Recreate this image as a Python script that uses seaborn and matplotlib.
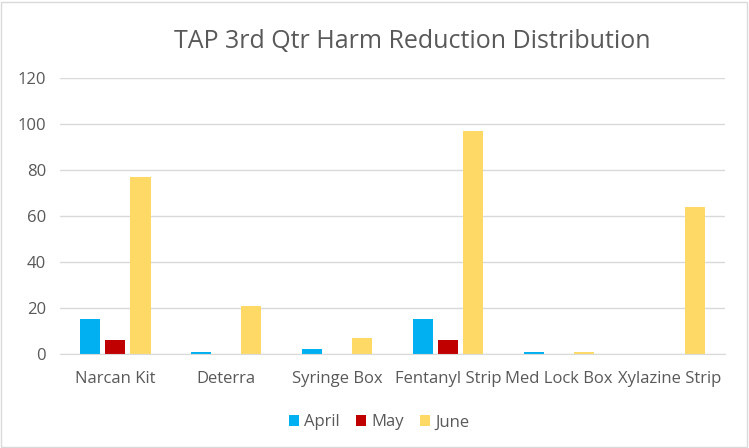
import matplotlib
matplotlib.use("Agg")
import matplotlib.pyplot as plt
import pandas as pd
import seaborn as sns
from matplotlib.patches import Rectangle

categories = ["Narcan Kit", "Deterra", "Syringe Box", "Fentanyl Strip", "Med Lock Box", "Xylazine Strip"]
months = ["April", "May", "June"]
april = [15, 1, 2, 15, 1, 0]
may = [6, 0, 0, 6, 0, 0]
june = [77, 21, 7, 97, 1, 64]

COLORS = {"April": "#00B0F0", "May": "#C00000", "June": "#FFD966"}
TEXT = "#595959"

df = pd.DataFrame({"Item": categories, "April": april, "May": may, "June": june})
long_df = df.melt(id_vars="Item", var_name="Month", value_name="Count")

sns.set_style("white")
plt.rcParams["font.family"] = ["Open Sans", "DejaVu Sans"]

fig = plt.figure(figsize=(7.49, 4.48), dpi=100)
ax = fig.add_axes([0.08, 0.21, 0.888, 0.616])

sns.barplot(
    data=long_df,
    x="Item",
    y="Count",
    hue="Month",
    hue_order=months,
    palette=COLORS,
    width=0.68,
    gap=0.2,
    ax=ax,
    saturation=1,
    linewidth=0,
)

ax.set_ylim(0, 120)
ax.set_yticks(range(0, 121, 20))
ax.set_xlim(-0.5, len(categories) - 0.5)
ax.yaxis.grid(True, color="#D9D9D9", linewidth=1)
ax.set_axisbelow(True)
for side in ["top", "right", "left"]:
    ax.spines[side].set_visible(False)
ax.spines["bottom"].set_color("#D9D9D9")
ax.tick_params(axis="both", length=0, labelsize=12, colors=TEXT, pad=10)
ax.tick_params(axis="x", pad=12)
ax.set_xlabel("")
ax.set_ylabel("")

fig.suptitle("TAP 3rd Qtr Harm Reduction Distribution", x=0.55, y=0.935,
             fontsize=18, color=TEXT)

leg = ax.legend(loc="upper center", bbox_to_anchor=(0.48, -0.165), ncol=3, frameon=False,
                fontsize=12, handlelength=0.6, handleheight=0.6, columnspacing=1.0,
                handletextpad=0.3)
for t in leg.get_texts():
    t.set_color(TEXT)

fig.patches.append(Rectangle((0.002, 0.003), 0.995, 0.993, transform=fig.transFigure,
                             fill=False, edgecolor="#D9D9D9", linewidth=1))

fig.savefig("out.png", dpi=100)
